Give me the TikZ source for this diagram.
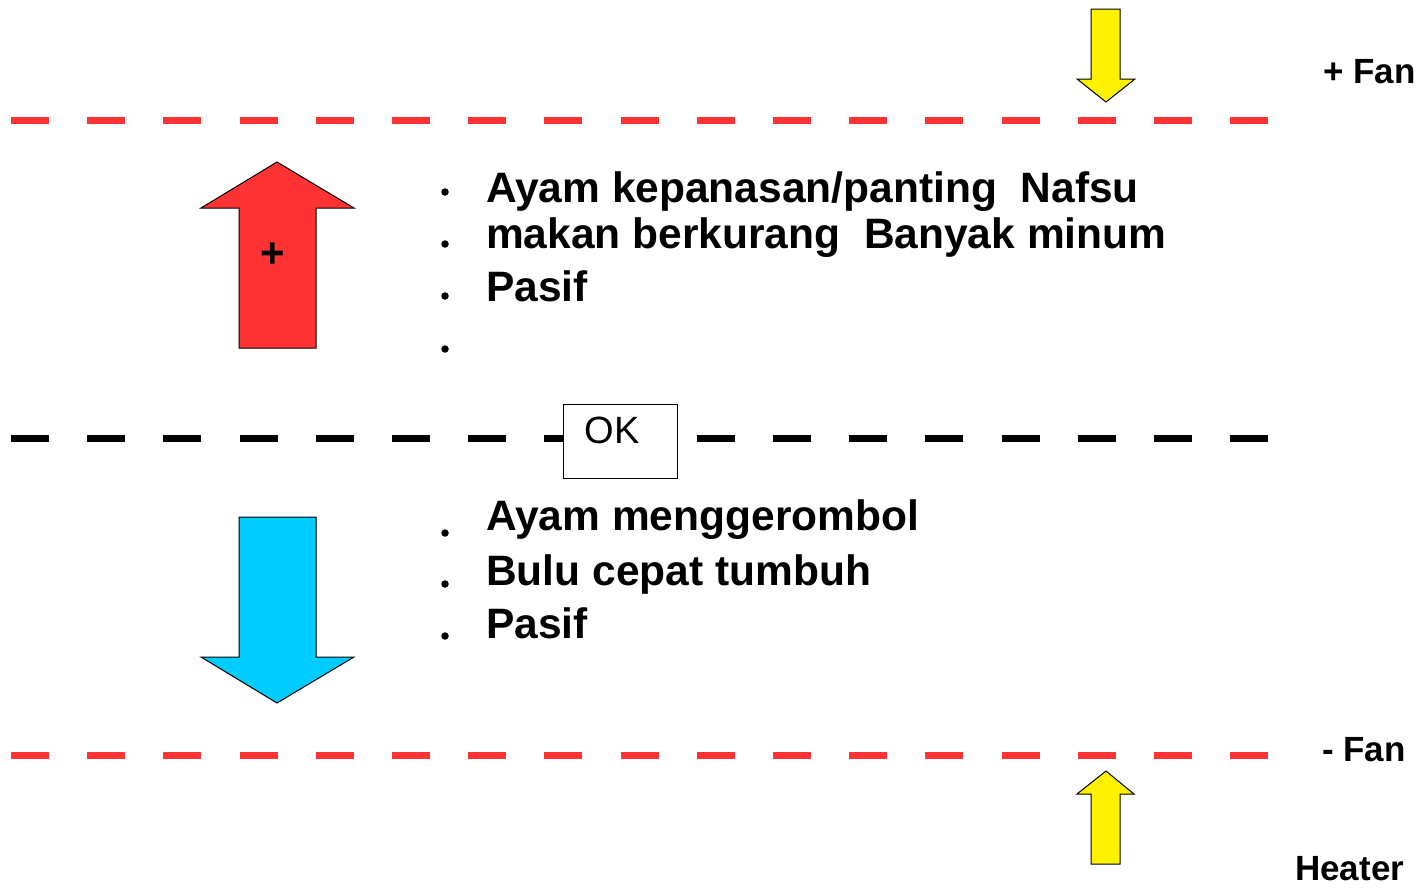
\documentclass[tikz,border=0pt]{standalone}
\usepackage{fontspec}
\setmainfont{Liberation Sans}
\begin{document}
\begin{tikzpicture}[x=1pt,y=-1pt,
  redline/.style={draw={rgb,255:red,255;green,51;blue,51}, line width=7pt, dash pattern=on 38pt off 38.2pt},
  blackline/.style={draw=black, line width=7pt, dash pattern=on 38pt off 38.2pt},
  bigarrow/.style={draw=black, line width=1pt, line join=miter},
  item/.style={anchor=base west, inner sep=0pt, font=\fontsize{42.5}{50}\selectfont\bfseries},
  side/.style={anchor=base west, inner sep=0pt, font=\fontsize{35}{42}\selectfont\bfseries},
  bul/.style={circle, fill=black, inner sep=0pt, minimum size=7.5pt}]
\useasboundingbox (0,0) rectangle (1425,887);
% dashed lines
\draw[redline] (11,120) -- (1268,120);
\draw[blackline] (11,438) -- (1268,438);
\draw[redline] (11,755) -- (1268,755);
% OK box
\node[draw=black, fill=white, line width=1pt, minimum width=114pt, minimum height=74pt, inner sep=0pt] (ok) at (620,441) {};
\node[anchor=base, inner sep=0pt, font=\fontsize{38}{44}\selectfont] (oktext) at (612,443) {OK};
% red arrow up
\filldraw[bigarrow, fill={rgb,255:red,255;green,51;blue,51}]
  (277,162) -- (354,208) -- (316,208) -- (316,348) -- (239,348) -- (239,208) -- (201,208) -- cycle;
\node[inner sep=0pt, font=\fontsize{42}{42}\selectfont\bfseries] (plus) at (273,255) {+};
% blue arrow down
\filldraw[bigarrow, fill={rgb,255:red,0;green,204;blue,255}]
  (239,517) -- (316,517) -- (316,657) -- (354,657) -- (277,703) -- (201,657) -- (239,657) -- cycle;
% yellow arrows
\filldraw[bigarrow, fill=yellow]
  (1091,9) -- (1120,9) -- (1120,79) -- (1135,79) -- (1106,102) -- (1077,79) -- (1091,79) -- cycle;
\filldraw[bigarrow, fill=yellow]
  (1106,771) -- (1134,794) -- (1120,794) -- (1120,864) -- (1091,864) -- (1091,794) -- (1077,794) -- cycle;
% bullets
\node[bul] (b1) at (445,192) {};
\node[bul] (b2) at (445,244) {};
\node[bul] (b3) at (445,296) {};
\node[bul] (b4) at (445,349) {};
\node[bul] (b5) at (445,533) {};
\node[bul] (b6) at (445,584) {};
\node[bul] (b7) at (445,636) {};
% texts
\node[item] (t1) at (486,202) {Ayam kepanasan/panting\ \ Nafsu};
\node[item] (t2) at (486,248) {makan berkurang\ \ Banyak minum};
\node[item] (t3) at (486,301) {Pasif};
\node[item] (t4) at (486,530) {Ayam menggerombol};
\node[item] (t5) at (486,585) {Bulu cepat tumbuh};
\node[item] (t6) at (486,638) {Pasif};
\node[side] (fanp) at (1323,83) {+ Fan};
\node[side] (fanm) at (1322,761) {- Fan};
\node[side] (heater) at (1295,880) {Heater};
\end{tikzpicture}
\end{document}
